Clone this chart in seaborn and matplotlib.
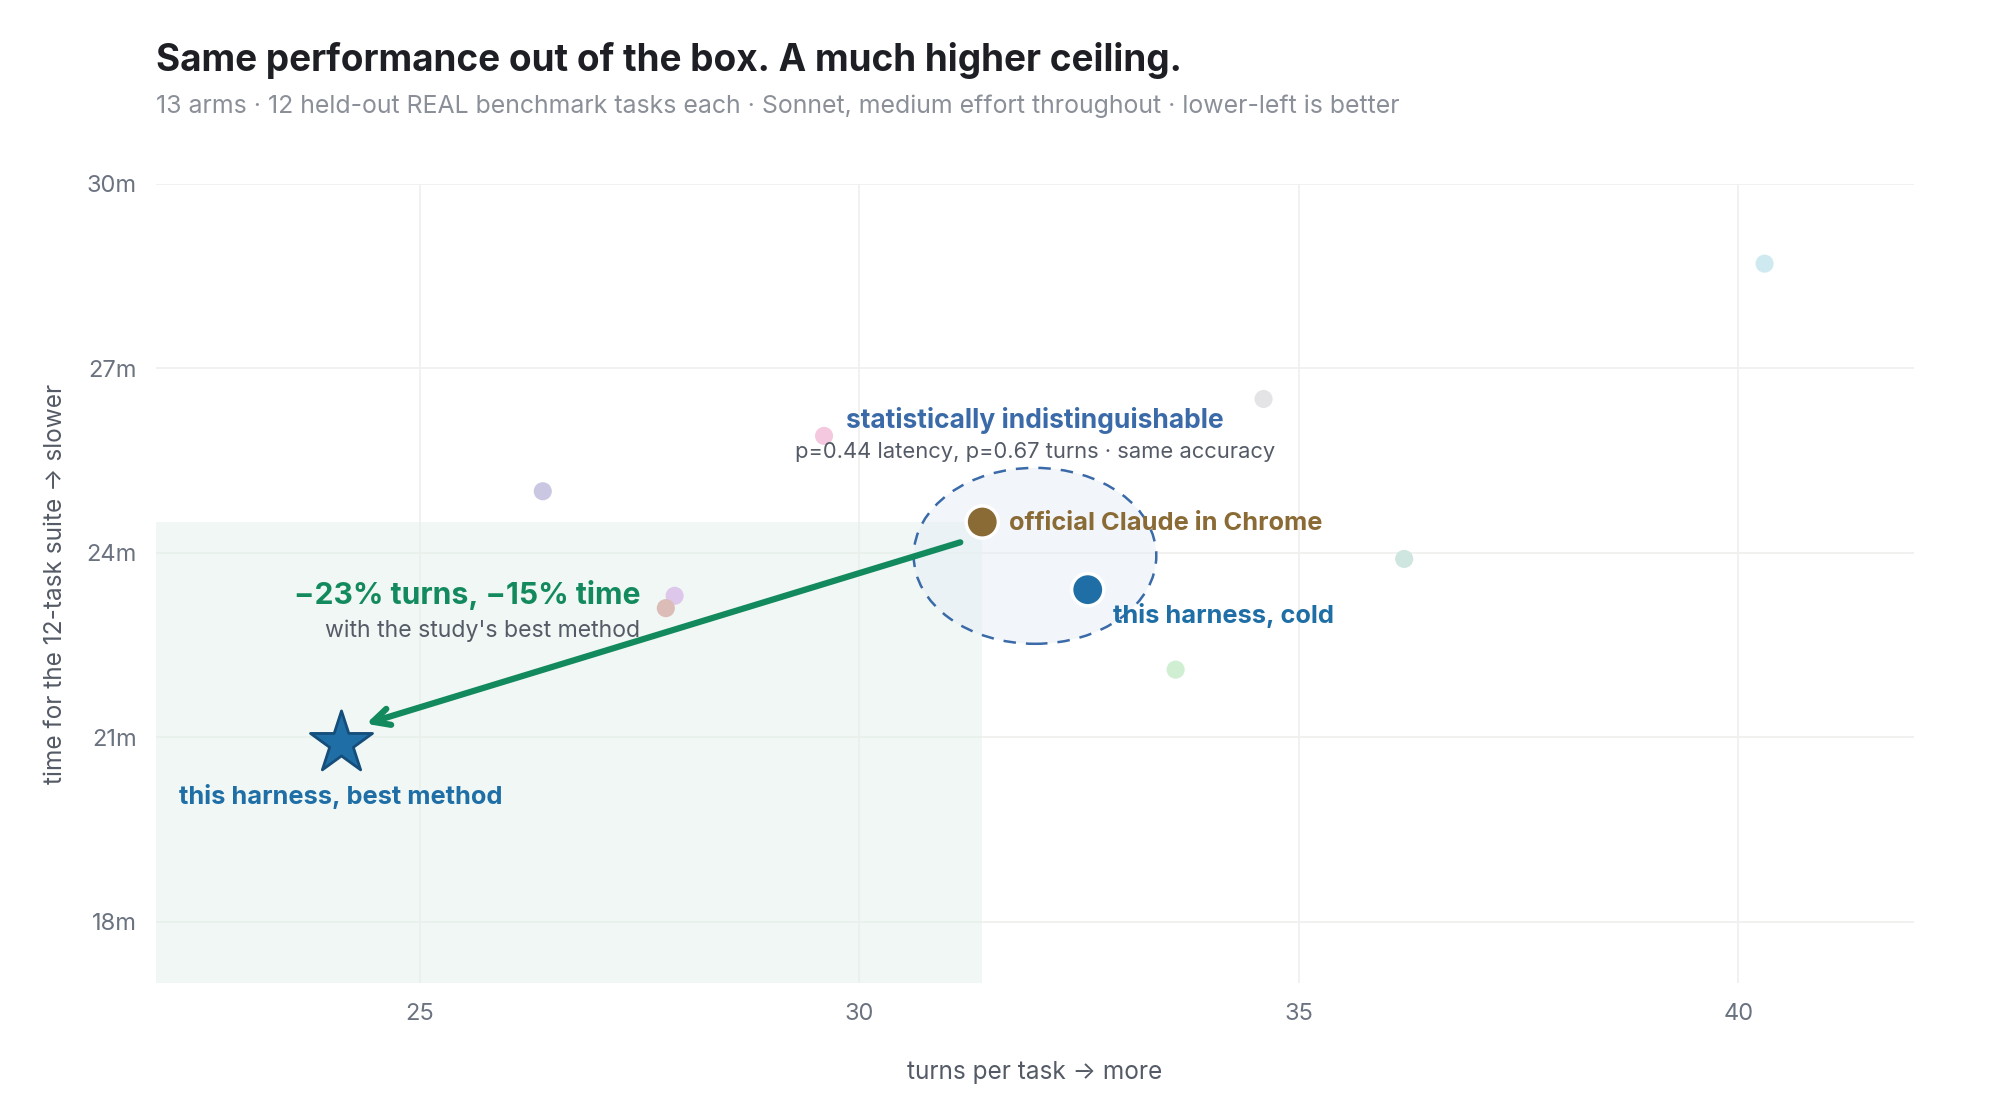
import numpy as np
import pandas as pd
import seaborn as sns
import matplotlib.pyplot as plt
from matplotlib.patches import Ellipse, Rectangle

# Data
arms = ["arm 1", "arm 2", "arm 3", "arm 4", "arm 5", "arm 6", "arm 7", "arm 8",
        "official Claude in Chrome", "this harness, cold", "this harness, best method"]
turns = [40.3, 34.6, 29.6, 26.4, 27.9, 27.8, 36.2, 33.6, 31.4, 32.6, 24.1]
minutes = [28.7, 26.5, 25.9, 25.0, 23.3, 23.1, 23.9, 22.1, 24.5, 23.4, 20.9]
arm_colors = ["#cfe9f0", "#e4e4e6", "#f4c9e0", "#c9c7e2", "#ddc8ec", "#dbbcb6", "#cfe6e0", "#cfeed2",
              "#8a6a35", "#1f6fa6", "#1f6fa6"]

x_ticks = [25, 30, 35, 40]
y_ticks = [18, 21, 24, 27, 30]
y_tick_labels = ["18m", "21m", "24m", "27m", "30m"]

df = pd.DataFrame({"arm": arms, "turns": turns, "minutes": minutes})
palette = dict(zip(arms, arm_colors))

sns.set_theme(style="whitegrid")
plt.rcParams['font.family'] = ['Inter', 'DejaVu Sans']

green = "#138a5e"
blue = "#1f6fa6"
grey_txt = "#555b66"

fig = plt.figure(figsize=(20, 11.2), dpi=100)
ax = fig.add_axes([0.078, 0.122, 0.879, 0.714])

bg = df.iloc[:8]
sns.scatterplot(data=bg, x="turns", y="minutes", hue="arm", palette=palette, s=170,
                edgecolor="none", legend=False, ax=ax, zorder=3)
key = df.iloc[8:10]
sns.scatterplot(data=key, x="turns", y="minutes", hue="arm", palette=palette, s=540,
                edgecolor="white", linewidth=2.5, legend=False, ax=ax, zorder=5)
best = df.iloc[10:]
sns.scatterplot(data=best, x="turns", y="minutes", marker="*", color=blue, s=2200,
                edgecolor="#154e7a", linewidth=2, legend=False, ax=ax, zorder=6)

ax.set_xlim(22, 42)
ax.set_ylim(17, 30)

# shaded "better than official" region
off_x, off_y = turns[8], minutes[8]
ax.add_patch(Rectangle((22, 17), off_x - 22, off_y - 17, facecolor="#e3f1ea", alpha=0.5,
                       edgecolor="none", zorder=1))

# ellipse around the two indistinguishable arms
cx = (turns[8] + turns[9]) / 2
cy = (minutes[8] + minutes[9]) / 2
ax.add_patch(Ellipse((cx, cy), 2.76, 2.86, facecolor="#e6eef6", alpha=0.5,
                     edgecolor="none", zorder=2))
ax.add_patch(Ellipse((cx, cy), 2.76, 2.86, facecolor="none",
                     edgecolor="#3a6aa8", linestyle=(0, (5, 4)), linewidth=1.8, zorder=4))

ax.text(cx, 26.15, "statistically indistinguishable", ha="center", va="center",
        fontsize=19, fontweight="bold", color="#3a6aa8", zorder=7)
ax.text(cx, 25.63, "p=0.44 latency, p=0.67 turns · same accuracy", ha="center", va="center",
        fontsize=15.8, color=grey_txt, zorder=7)

# improvement arrow
ax.annotate("", xy=(24.39, 21.22), xytext=(31.15, 24.17),
            arrowprops=dict(arrowstyle="->", lw=4.5, color=green, mutation_scale=30,
                            shrinkA=0, shrinkB=0), zorder=6)

ax.text(31.70, off_y - 0.02, "official Claude in Chrome", ha="left", va="center",
        fontsize=18.3, fontweight="bold", color="#8a6a35", zorder=7)
ax.text(32.89, 22.98, "this harness, cold", ha="left", va="center",
        fontsize=18.3, fontweight="bold", color=blue, zorder=7)
ax.text(turns[10], 20.03, "this harness, best method", ha="center", va="center",
        fontsize=18.3, fontweight="bold", color=blue, zorder=7)
ax.text(27.51, 23.31, "\u221223% turns, \u221215% time", ha="right", va="center",
        fontsize=21.7, fontweight="bold", color=green, zorder=7)
ax.text(27.51, 22.73, "with the study's best method", ha="right", va="center",
        fontsize=16.6, color=grey_txt, zorder=7)

ax.set_xticks(x_ticks)
ax.set_yticks(y_ticks)
ax.set_yticklabels(y_tick_labels)
ax.tick_params(axis="both", labelsize=17, labelcolor="#6b7280", length=0, pad=14)
ax.grid(True, color="#f0f0ef", linewidth=1.3)
ax.set_axisbelow(True)
for sp in ax.spines.values():
    sp.set_visible(False)
ax.set_facecolor("white")

ax.set_xlabel("turns per task \u2192 more", fontsize=17.6, color="#555b66", labelpad=26)
ax.set_ylabel("time for the 12-task suite \u2192 slower", fontsize=17.6, color="#555b66", labelpad=14)

fig.text(0.078, 0.946, "Same performance out of the box. A much higher ceiling.",
         fontsize=26.6, fontweight="bold", color="#1d1f24", va="center")
fig.text(0.078, 0.905, "13 arms · 12 held-out REAL benchmark tasks each · Sonnet, medium effort "
         "throughout · lower-left is better", fontsize=17.9, color="#8a8f98", va="center")

fig.savefig("out.png", dpi=100, facecolor="white")
